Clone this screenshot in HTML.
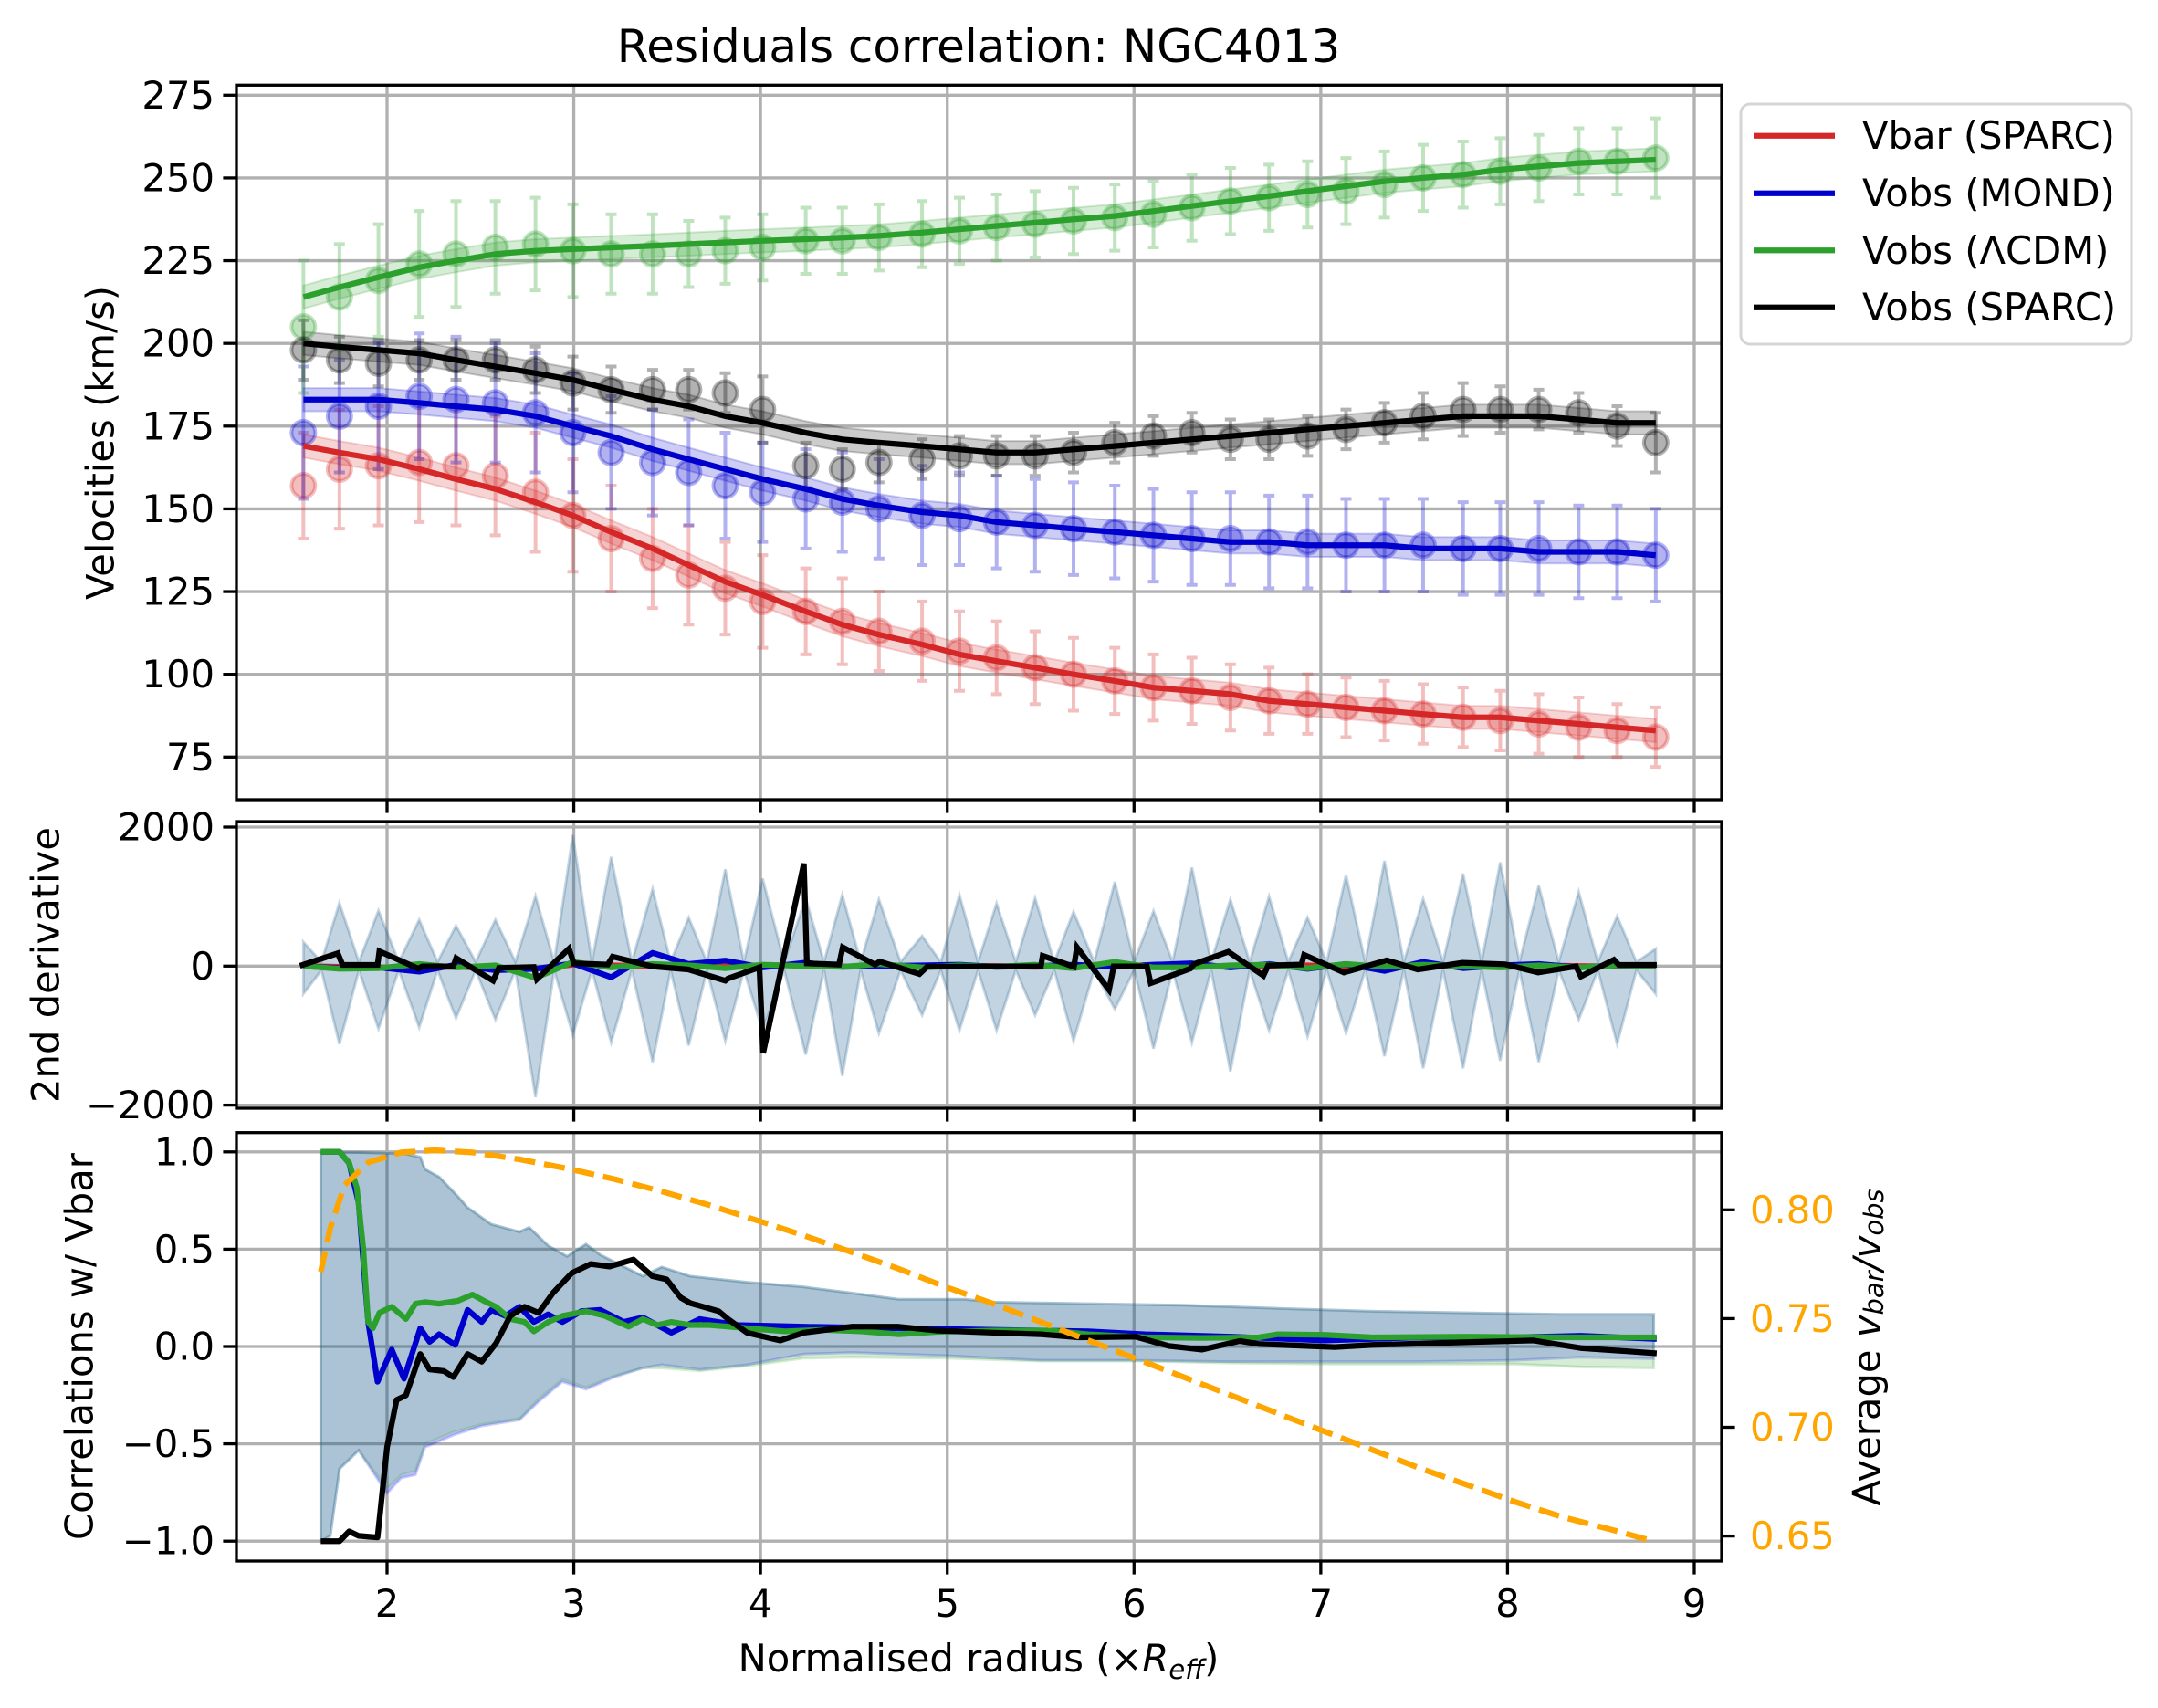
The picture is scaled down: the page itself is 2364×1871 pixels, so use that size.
<!DOCTYPE html>
<html><head><meta charset="utf-8"><title>Residuals correlation: NGC4013</title>
<style>
html,body{margin:0;padding:0;background:#fff;}
svg{display:block;font-family:"DejaVu Sans","Liberation Sans",sans-serif;}
</style></head>
<body>
<svg id="chart" xmlns="http://www.w3.org/2000/svg" width="2364" height="1871" viewBox="0 0 2364 1871">
<rect x="0" y="0" width="2364" height="1871" fill="#fff"/>
<text x="1072" y="68" font-size="50" text-anchor="middle">Residuals correlation: NGC4013</text>
<g id="gTop"></g>
<g id="gMid"></g>
<g id="gBot"></g>
<text transform="translate(110,485) rotate(-90)" font-size="41.7" text-anchor="middle" dominant-baseline="central">Velocities (km/s)</text>
<text transform="translate(50,1057) rotate(-90)" font-size="41.7" text-anchor="middle" dominant-baseline="central">2nd derivative</text>
<text transform="translate(87,1475) rotate(-90)" font-size="41.7" text-anchor="middle" dominant-baseline="central">Correlations w/ Vbar</text>
<text transform="translate(2045,1476) rotate(-90)" font-size="41.7" text-anchor="middle" dominant-baseline="central">Average <tspan font-style="italic">v</tspan><tspan font-style="italic" font-size="29" dy="8">bar</tspan><tspan dy="-8" font-style="italic">/v</tspan><tspan font-style="italic" font-size="29" dy="8">obs</tspan></text>
<text x="1072" y="1831" font-size="41.7" text-anchor="middle">Normalised radius (×<tspan font-style="italic">R</tspan><tspan font-style="italic" font-size="29" dy="8">eff</tspan><tspan dy="-8">)</tspan></text>
<g>
<rect x="1907" y="114" width="428" height="263" rx="10" fill="#fff" fill-opacity="0.8" stroke="#d5d5d5" stroke-width="3"/>
<line x1="1921" y1="148.7" x2="2010" y2="148.7" stroke="#d62728" stroke-width="6.25"/>
<text x="2040" y="163" font-size="41.7">Vbar (SPARC)</text>
<line x1="1921" y1="211.7" x2="2010" y2="211.7" stroke="#0000cd" stroke-width="6.25"/>
<text x="2040" y="226" font-size="41.7">Vobs (MOND)</text>
<line x1="1921" y1="274.3" x2="2010" y2="274.3" stroke="#2ca02c" stroke-width="6.25"/>
<text x="2040" y="289" font-size="41.7">Vobs (ΛCDM)</text>
<line x1="1921" y1="336.7" x2="2010" y2="336.7" stroke="#000" stroke-width="6.25"/>
<text x="2040" y="351" font-size="41.7">Vobs (SPARC)</text>
</g>
</svg>
<script>
// ---------- data ----------
const radii = [1.552,1.745,1.954,2.172,2.369,2.580,2.795,2.995,3.200,3.422,3.615,3.811,4.011,4.242,4.438,4.634,4.865,5.065,5.264,5.470,5.676,5.897,6.104,6.310,6.516,6.723,6.929,7.135,7.341,7.548,7.762,7.961,8.167,8.381,8.587,8.794];
const vbarPts = [157,162,163,164,163,160,155,148,141,135,130,126,122,119,116,113,110,107,105,102,100,98,96,95,93,92,91,90,89,88,87,86,85,84,83,81];
const vbarErr = [16,18,18,18,18,18,18,17,16,15,15,14,14,13,13,12,12,12,11,11,11,10,10,10,10,10,9,9,9,9,9,9,9,9,8,9];
const vbarFit = [169,167,165,162,159,156,152,148,143,138,133,128,124,119,115,112,109,106,104,102,100,98,96,95,94,92,91,90,89,88,87,87,86,85,84,83];
const mondPts = [173,178,181,184,183,182,179,173,167,164,161,157,155,153,152,150,148,147,146,145,144,143,142,141,141,140,140,139,139,139,138,138,138,137,137,136];
const mondErr = [20,17,19,19,19,18,18,18,17,16,16,16,15,15,15,15,15,14,14,14,14,14,14,14,14,14,14,14,14,14,14,14,14,14,14,14];
const mondFit = [183,183,183,182,181,180,178,175,172,168,165,162,159,156,153,151,149,148,146,145,144,143,142,141,140,140,139,139,139,138,138,138,137,137,137,136];
const lcdmPts = [205,214,219,224,227,229,230,228,227,227,227,228,229,231,231,232,233,234,235,236,237,238,239,241,243,244,245,246,248,250,251,252,253,255,255,256];
const lcdmErr = [20,16,17,16,16,14,14,14,12,12,10,10,10,10,10,10,10,10,10,10,10,10,10,10,10,10,10,10,10,10,10,10,10,10,10,12];
const lcdmFit = [214,217,220,223,225,227,228,228.5,229,229.5,230,230.5,231,231.5,232,232.5,233.5,234.5,235.5,236.5,237.5,238.5,240,241.5,243,244.5,246,247.5,249,250,251,252.5,253.5,254.5,255,255.5];
const sparcPts = [198,195,194,195,195,195,192,188,186,186,186,185,180,163,162,164,165,166,166,166,167,170,172,173,171,171,172,174,176,178,180,180,180,179,175,170];
const sparcErr = [9,7,7,6,6,6,7,8,7,6,6,6,10,7,6,6,6,6,6,6,6,6,6,6,6,6,6,6,6,7,8,7,6,6,6,9];
const sparcFit = [200,199,198,197,195,193,191,189,186,183,181,178,176,173,171,170,169,168,167,167,168,169,170,171,172,173,174,175,176,177,178,178,178,177,176,176];

const d2Upper = [346,907,798,667,580,667,1007,1886,1571,1111,697,1392,1260,978,1024,958,433,1024,902,978,783,1212,792,1418,958,1002,697,1309,1514,967,1330,1492,1155,1068,718,250];
const d2Lower = [-398,-1120,-901,-880,-749,-770,-1886,-989,-1098,-1382,-1142,-1077,-924,-1274,-1580,-967,-705,-924,-924,-705,-1077,-618,-1186,-1098,-1514,-924,-1011,-967,-1296,-1471,-1471,-1361,-1382,-770,-1120,-400];
const d2Vbar = [0,-10,-20,-15,-10,-30,-40,20,10,0,-10,5,10,15,-5,0,0,5,0,-10,5,10,-5,0,-10,5,10,-5,-15,0,5,-5,10,0,-5,0];
const d2Mond = [0,-30,-20,-80,20,-60,-40,40,-160,190,30,80,-20,50,-10,0,10,20,-10,0,20,-10,20,40,-20,30,-40,30,-70,60,-30,10,30,-20,10,0];
const d2Lcdm = [0,-40,-30,30,-20,10,-170,60,-20,30,10,-30,20,0,-10,30,-20,10,-10,20,-30,60,-20,-20,10,20,-30,30,-10,20,0,-20,10,-20,10,0];
const d2SparcX = [1.533,1.736,1.762,1.949,1.959,2.167,2.188,2.355,2.370,2.568,2.599,2.786,2.802,2.974,3.000,3.182,3.208,3.421,3.613,3.811,3.826,3.994,4.014,4.232,4.248,4.420,4.440,4.613,4.638,4.851,4.892,5.501,5.511,5.678,5.694,5.866,5.891,6.069,6.089,6.302,6.323,6.505,6.693,6.718,6.896,6.911,7.124,7.353,7.520,7.759,7.987,8.164,8.367,8.393,8.570,8.596,8.799];
const d2SparcV = [4,184,17,17,214,-35,-4,-4,114,-210,-26,-13,-188,249,39,22,136,-4,-48,-210,-179,-18,-1252,1475,39,22,271,22,66,-114,-9,-4,149,-9,271,-341,-4,-4,-245,-35,31,206,-136,9,22,162,-92,83,-48,48,26,-92,-4,-149,92,17,17];

const bandUpX = [1.645,1.848,2.101,2.178,2.203,2.279,2.381,2.431,2.558,2.710,2.761,2.863,2.964,3.065,3.142,3.370,3.471,3.624,3.928,4.232,4.486,4.740,5.095,5.247,5.754,6.262,6.769,7.277,7.784,8.291,8.783];
const bandUpV = [1.0,0.997,0.989,0.973,0.911,0.871,0.769,0.714,0.628,0.589,0.612,0.518,0.463,0.526,0.471,0.361,0.408,0.361,0.330,0.306,0.275,0.243,0.243,0.228,0.220,0.212,0.196,0.181,0.173,0.165,0.165];
const bandLoX = [1.645,1.696,1.746,1.848,2.0,2.076,2.152,2.203,2.355,2.507,2.710,2.812,2.939,3.065,3.218,3.370,3.471,3.674,3.928,4.232,4.486,4.993,5.501,6.008,6.516,7.023,7.530,8.038,8.393,8.783];
const bandLoV = [-1.0,-0.973,-0.628,-0.534,-0.754,-0.675,-0.659,-0.518,-0.455,-0.408,-0.377,-0.283,-0.181,-0.220,-0.157,-0.110,-0.094,-0.118,-0.094,-0.039,-0.031,-0.047,-0.071,-0.071,-0.078,-0.078,-0.078,-0.071,-0.055,-0.063];
const bandLoLcdmV = [-1.0,-0.973,-0.628,-0.534,-0.730,-0.660,-0.640,-0.500,-0.440,-0.400,-0.370,-0.270,-0.170,-0.210,-0.150,-0.110,-0.110,-0.125,-0.100,-0.060,-0.055,-0.060,-0.075,-0.075,-0.085,-0.090,-0.090,-0.090,-0.105,-0.110];
const corrLcdmX = [1.645,1.746,1.797,1.838,1.873,1.899,1.924,1.959,2.025,2.101,2.152,2.203,2.279,2.381,2.457,2.518,2.583,2.660,2.736,2.786,2.863,2.939,3.065,3.167,3.294,3.370,3.446,3.522,3.624,3.725,3.928,4.131,4.334,4.537,4.740,4.943,5.247,5.552,5.754,6.059,6.363,6.668,6.769,7.023,7.277,7.784,8.291,8.799];
const corrLcdmV = [1.0,1.0,0.942,0.816,0.502,0.126,0.094,0.173,0.204,0.141,0.220,0.228,0.220,0.235,0.267,0.235,0.204,0.141,0.126,0.078,0.126,0.157,0.181,0.157,0.102,0.141,0.110,0.126,0.110,0.110,0.094,0.078,0.086,0.078,0.063,0.075,0.082,0.082,0.063,0.047,0.044,0.047,0.063,0.060,0.047,0.050,0.047,0.047];
const corrMondX = [1.645,1.746,1.797,1.848,1.899,1.949,2.025,2.091,2.178,2.228,2.279,2.365,2.431,2.507,2.558,2.634,2.710,2.786,2.863,2.939,3.040,3.142,3.268,3.370,3.522,3.674,3.877,4.232,4.740,5.247,5.754,6.059,6.516,7.023,7.530,8.038,8.393,8.799];
const corrMondV = [1.0,1.0,0.942,0.738,0.126,-0.181,-0.016,-0.165,0.094,0.024,0.063,0.008,0.188,0.126,0.188,0.157,0.204,0.126,0.165,0.126,0.181,0.188,0.126,0.149,0.071,0.141,0.110,0.102,0.094,0.086,0.078,0.063,0.050,0.031,0.047,0.047,0.055,0.039];
const corrSparcX = [1.645,1.746,1.797,1.848,1.949,2.0,2.051,2.101,2.178,2.228,2.304,2.355,2.431,2.507,2.583,2.660,2.736,2.812,2.888,2.989,3.091,3.192,3.319,3.421,3.497,3.573,3.624,3.776,3.826,3.928,4.106,4.232,4.486,4.740,4.943,5.247,5.501,5.704,6.008,6.186,6.363,6.566,6.668,7.074,7.277,7.784,8.139,8.393,8.799];
const corrSparcV = [-1.0,-1.0,-0.950,-0.973,-0.981,-0.518,-0.275,-0.251,-0.039,-0.118,-0.126,-0.157,-0.039,-0.078,0.016,0.157,0.204,0.173,0.275,0.377,0.424,0.411,0.447,0.361,0.345,0.251,0.223,0.181,0.141,0.071,0.031,0.071,0.102,0.102,0.082,0.071,0.063,0.047,0.050,0.003,-0.016,0.028,0.013,-0.003,0.008,0.022,0.031,-0.008,-0.035];
const ratioX = [1.645,1.696,1.772,1.899,2.076,2.254,2.457,2.710,2.964,3.218,3.471,3.725,3.979,4.232,4.486,4.740,4.993,5.247,5.501,5.754,6.008,6.262,6.516,6.769,7.023,7.277,7.530,7.784,8.038,8.291,8.545,8.783];
const ratioV = [0.7715,0.7917,0.8113,0.8218,0.8264,0.8274,0.8264,0.8232,0.8190,0.8141,0.8085,0.8022,0.7952,0.7882,0.7806,0.7729,0.7645,0.7568,0.7484,0.7400,0.7316,0.7232,0.7148,0.7064,0.6980,0.6896,0.6812,0.6735,0.6658,0.6588,0.6532,0.6476];

const xTicks = [2,3,4,5,6,7,8,9];
const velTicks = [75,100,125,150,175,200,225,250,275];
const d2Ticks = [-2000,0,2000];
const d2TickLabels = ['−2000','0','2000'];
const corrTicks = [-1.0,-0.5,0.0,0.5,1.0];
const corrTickLabels = ['−1.0','−0.5','0.0','0.5','1.0'];
const ratioTicks = [0.65,0.70,0.75,0.80];
const ratioTickLabels = ['0.65','0.70','0.75','0.80'];

// ---------- scales ----------
const L = 259, R = 1886;
const sx = x => 424 + (x - 2) * 204.57;
const syTop = v => 104.3 + (275 - v) * 3.625;
const syMid = v => 1058.3 - v * 0.07615;
const syBot = c => 1475 - c * 213.2;
const syRat = r => 1325.3 - (r - 0.8) * 2382;
const boxes = {top:[93.3,876], mid:[900,1214], bot:[1240.7,1710]};
const NS = 'http://www.w3.org/2000/svg';
function mk(parent, tag, attrs){const e=document.createElementNS(NS,tag);for(const k in attrs)e.setAttribute(k,attrs[k]);parent.appendChild(e);return e;}
function pts(xs, ys, fy){return xs.map((x,i)=>sx(x).toFixed(1)+','+fy(ys[i]).toFixed(1)).join(' ');}

const gTop=document.getElementById('gTop'), gMid=document.getElementById('gMid'), gBot=document.getElementById('gBot');

function frame(g, key, name){
  const [t,b]=boxes[key];
  xTicks.forEach(x=>{
    const gl=mk(g,'line',{x1:sx(x),x2:sx(x),y1:t,y2:b,stroke:'#b0b0b0','stroke-width':3.3});
    
    
    const tk=mk(g,'line',{x1:sx(x),x2:sx(x),y1:b,y2:b+14.6,stroke:'#000','stroke-width':3.3});
    
    
  });
}
function hgrid(g, ticks, labels, fy, name){
  ticks.forEach((v,i)=>{
    const gl=mk(g,'line',{x1:L,x2:R,y1:fy(v),y2:fy(v),stroke:'#b0b0b0','stroke-width':3.3});
    
    
    const tk=mk(g,'line',{x1:L-14.6,x2:L,y1:fy(v),y2:fy(v),stroke:'#000','stroke-width':3.3});
    
    
    const tx=mk(g,'text',{x:L-24,y:fy(v),'font-size':41.7,'text-anchor':'end','dominant-baseline':'central'});
    tx.textContent=labels[i];
    
    
  });
}
function spines(g, key, name){
  const [t,b]=boxes[key];
  const r=mk(g,'rect',{x:L,y:t,width:R-L,height:b-t,fill:'none',stroke:'#000','stroke-width':3.3});
  
  
}

// ---------- top panel ----------
frame(gTop,'top','velocity');
hgrid(gTop, velTicks, velTicks.map(String), syTop, 'velocity');
const series=[
  {name:'vbar',c:'#d62728',p:vbarPts,e:vbarErr,f:vbarFit},
  {name:'mond',c:'#0000cd',p:mondPts,e:mondErr,f:mondFit},
  {name:'lcdm',c:'#2ca02c',p:lcdmPts,e:lcdmErr,f:lcdmFit},
  {name:'sparc',c:'#000000',p:sparcPts,e:sparcErr,f:sparcFit}
];
series.forEach(s=>{
  const up=s.f.map(v=>v+3.5), lo=s.f.map(v=>v-3.5);
  const band=mk(gTop,'polygon',{points:pts(radii,up,syTop)+' '+pts(radii.slice().reverse(),lo.slice().reverse(),syTop),fill:s.c,'fill-opacity':0.2,stroke:s.c,'stroke-opacity':0.2,'stroke-width':2});
  
  
});
series.forEach(s=>{
  radii.forEach((x,i)=>{
    const X=sx(x), y1=syTop(s.p[i]-s.e[i]), y2=syTop(s.p[i]+s.e[i]);
    const eb=mk(gTop,'path',{d:`M${X},${y1}V${y2}M${X-6},${y1}H${X+6}M${X-6},${y2}H${X+6}`,stroke:s.c,'stroke-opacity':0.3,'stroke-width':4,fill:'none'});
    
    
    const m=mk(gTop,'circle',{cx:X,cy:syTop(s.p[i]),r:13,fill:s.c,'fill-opacity':0.3,stroke:s.c,'stroke-opacity':0.3,'stroke-width':4});
    
    
  });
});
series.forEach(s=>{
  const ln=mk(gTop,'polyline',{points:pts(radii,s.f,syTop),fill:'none',stroke:s.c,'stroke-width':6.25,'stroke-linejoin':'round'});
  
  
});
spines(gTop,'top','velocity');

// ---------- middle panel ----------
frame(gMid,'mid','derivative');
hgrid(gMid, d2Ticks, d2TickLabels, syMid, 'derivative');
function zig(vals, sign){
  const out=[];
  radii.forEach((x,i)=>{
    out.push([x,vals[i]]);
    if(i<radii.length-1) out.push([(x+radii[i+1])/2, sign*60]);
  });
  return out;
}
[['#0000ff','mond'],['#2ca02c','lcdm']].forEach(([c,n])=>{
  const u=zig(d2Upper,1), l=zig(d2Lower,-1).reverse();
  const p=u.concat(l).map(q=>sx(q[0]).toFixed(1)+','+syMid(q[1]).toFixed(1)).join(' ');
  const band=mk(gMid,'polygon',{points:p,fill:c,'fill-opacity':0.14,stroke:c,'stroke-opacity':0.12,'stroke-width':3});
  
  
});
[[d2Vbar,'#d62728','vbar'],[d2Mond,'#0000cd','mond'],[d2Lcdm,'#2ca02c','lcdm']].forEach(([v,c,n])=>{
  const ln=mk(gMid,'polyline',{points:pts(radii,v,syMid),fill:'none',stroke:c,'stroke-width':6.25,'stroke-linejoin':'round'});
  
  
});
const d2s=mk(gMid,'polyline',{points:pts(d2SparcX,d2SparcV,syMid),fill:'none',stroke:'#000','stroke-width':6.25,'stroke-linejoin':'miter'});


spines(gMid,'mid','derivative');

// ---------- bottom panel ----------
frame(gBot,'bot','correlation');
hgrid(gBot, corrTicks, corrTickLabels, syBot, 'correlation');
[['#0000ff','mond',bandLoV],['#2ca02c','lcdm',bandLoLcdmV]].forEach(([c,n,lo])=>{
  const p=pts(bandUpX,bandUpV,syBot)+' '+pts(bandLoX.slice().reverse(),lo.slice().reverse(),syBot);
  const band=mk(gBot,'polygon',{points:p,fill:c,'fill-opacity':0.2,stroke:c,'stroke-opacity':0.2,'stroke-width':3});
  
  
});
[[corrMondX,corrMondV,'#0000cd','mond'],[corrLcdmX,corrLcdmV,'#2ca02c','lcdm'],[corrSparcX,corrSparcV,'#000','sparc']].forEach(([xs,vs,c,n])=>{
  const ln=mk(gBot,'polyline',{points:pts(xs,vs,syBot),fill:'none',stroke:c,'stroke-width':6.25,'stroke-linejoin':'round'});
  
  
});
const rl=mk(gBot,'polyline',{points:pts(ratioX,ratioV,syRat),fill:'none',stroke:'#ffa500','stroke-width':6.25,'stroke-dasharray':'23 10'});


spines(gBot,'bot','correlation');
ratioTicks.forEach((v,i)=>{
  const tk=mk(gBot,'line',{x1:R,x2:R+14.6,y1:syRat(v),y2:syRat(v),stroke:'#000','stroke-width':3.3});
  
  
  const tx=mk(gBot,'text',{x:R+31,y:syRat(v),'font-size':41.7,fill:'#ffa500','dominant-baseline':'central'});
  tx.textContent=ratioTickLabels[i];
  
  
});
xTicks.forEach(x=>{
  const tx=mk(gBot,'text',{x:sx(x),y:1771,'font-size':41.7,'text-anchor':'middle'});
  tx.textContent=String(x);
  
  
});
</script>
</body></html>
